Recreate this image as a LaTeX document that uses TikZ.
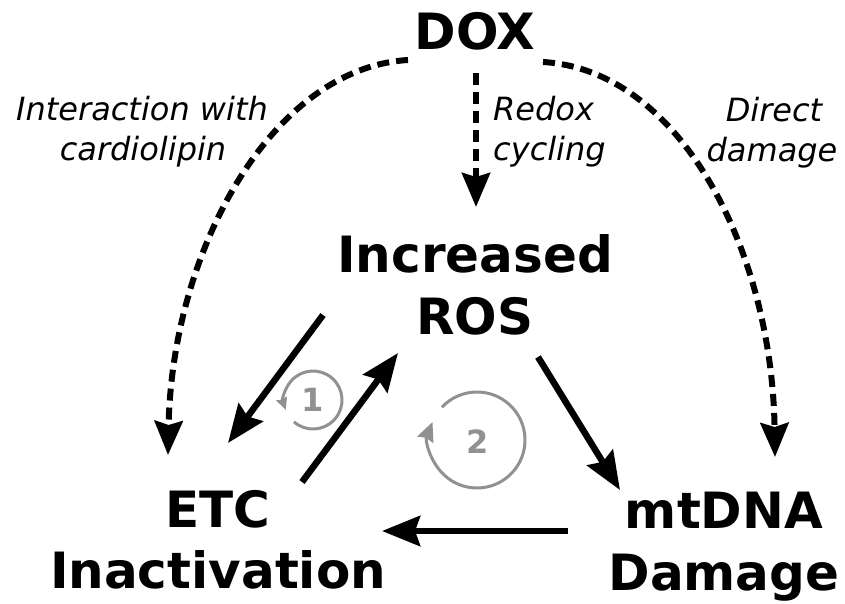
\documentclass[tikz,border=0pt]{standalone}
\usepackage{fontspec}
\setmainfont{DejaVu Sans}
\usetikzlibrary{arrows.meta}
\definecolor{cycgray}{RGB}{145,145,145}
\begin{document}
\begin{tikzpicture}[x=1pt,y=-1pt,
  big/.style={font=\fontsize{50}{60}\selectfont\bfseries, anchor=base, inner sep=0pt},
  lbl/.style={font=\fontsize{32}{38}\selectfont\itshape, anchor=base, inner sep=0pt},
  num/.style={font=\fontsize{32}{38}\selectfont\bfseries, text=cycgray, inner sep=0pt},
  dasharrow/.style={line width=6pt, dash pattern=on 12pt off 7pt, -{Stealth[length=34pt,width=28pt,inset=4pt]}},
  solidarrow/.style={line width=6.5pt, -{Stealth[length=38pt,width=30pt,inset=5pt]}},
  cyc/.style={draw=cycgray, line width=3pt},
]
\useasboundingbox (0,0) rectangle (845,603);

% main texts
\node[big] (dox) at (475,49) {DOX};
\node[big] (ros1) at (475,272) {Increased};
\node[big] (ros2) at (475,334) {ROS};
\node[big] (etc1) at (218,527) {ETC};
\node[big] (etc2) at (218,588) {Inactivation};
\node[big] (mt1) at (724,528) {mtDNA};
\node[big] (mt2) at (724,590) {Damage};

% italic labels
\node[lbl] (l1a) at (142,120) {Interaction with};
\node[lbl] (l1b) at (143,160) {cardiolipin};
\node[lbl, anchor=base west] (l2a) at (493,120) {Redox};
\node[lbl, anchor=base west] (l2b) at (493,160) {cycling};
\node[lbl] (l3a) at (774,121) {Direct};
\node[lbl] (l3b) at (772,161) {damage};

% connector end points
\coordinate (doxL) at (408,60);
\coordinate (doxM) at (476,73);
\coordinate (doxR) at (543,62);
\coordinate (etcTop) at (168,455);
\coordinate (rosTop) at (476,207);
\coordinate (mtTop) at (775,457);

\coordinate (rosSW) at (323,315);
\coordinate (etcNE) at (228,443);
\coordinate (etcE) at (302,482);
\coordinate (rosW) at (398,353);
\coordinate (rosSE) at (538,357);
\coordinate (mtNW) at (620,490);
\coordinate (mtW) at (568,531);
\coordinate (etcR) at (382,531);

% dashed arrows from DOX
\draw[dasharrow] (doxL) .. controls (272,68) and (172,250) .. (etcTop);
\draw[dasharrow] (doxM) -- (rosTop);
\draw[dasharrow] (doxR) .. controls (680,70) and (772,250) .. (mtTop);

% solid arrows
\draw[solidarrow] (rosSW) -- (etcNE);
\draw[solidarrow] (etcE) -- (rosW);
\draw[solidarrow] (rosSE) -- (mtNW);
\draw[solidarrow] (mtW) -- (etcR);

% cycle markers
\coordinate (c1) at (313,400);
\coordinate (c2) at (477,440);
\draw[cyc, -{Stealth[length=12pt,width=11pt,inset=1pt]}] (c1) ++(131:29) arc[start angle=131, end angle=-200, radius=29];
\draw[cyc, -{Stealth[length=19pt,width=17pt,inset=2pt]}] (c2) ++(-137:48) arc[start angle=-137, end angle=202, radius=48];
\node[num] (n1) at (313,400) {1};
\node[num] (n2) at (478,442) {2};
\end{tikzpicture}
\end{document}
